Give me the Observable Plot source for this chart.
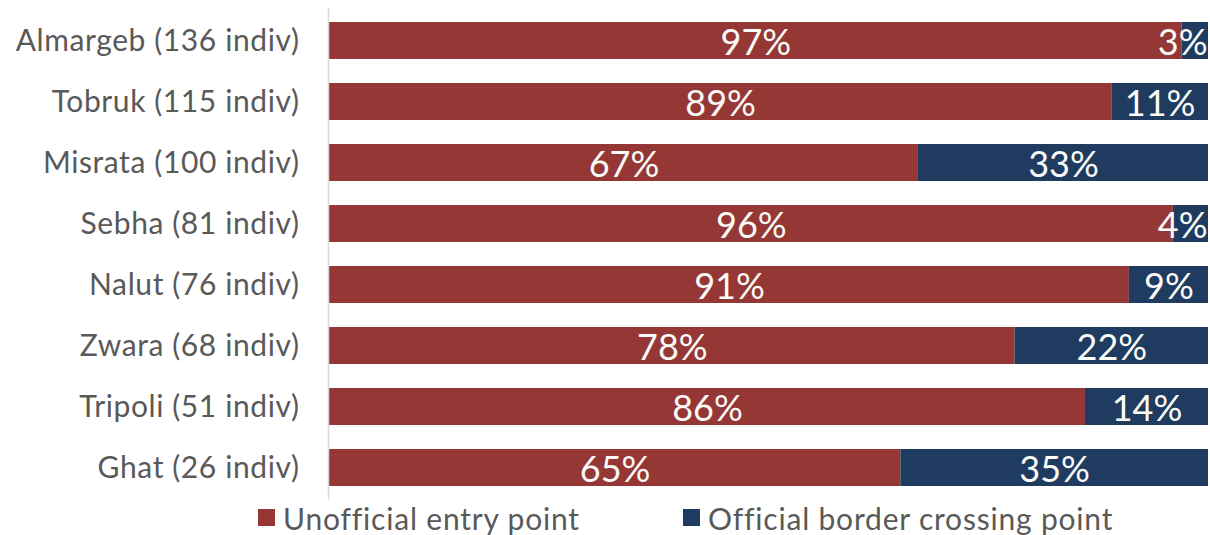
<!DOCTYPE html>
<html>
<head>
<meta charset="utf-8">
<script src="https://cdn.jsdelivr.net/npm/d3@7"></script>
<script src="https://cdn.jsdelivr.net/npm/@observablehq/plot@0.6"></script>
<style>
  html, body { margin: 0; padding: 0; background: #fff; }
  #chart { width: 1210px; }
  #chart svg g[aria-label="y-axis tick label"] text { letter-spacing: 0.6px; }
  .legend { height: 35px; position: relative; font-family: Lato, sans-serif; font-size: 30px; letter-spacing: 0.8px; color: #595959; }
  .legend .item { position: absolute; top: 0; display: flex; align-items: center; height: 35px; }
  .legend .sw { width: 17px; height: 17px; margin-right: 8px; }
</style>
</head>
<body>
<div id="chart"></div>
<script>
const locations = ["Almargeb (136 indiv)", "Tobruk (115 indiv)", "Misrata (100 indiv)", "Sebha (81 indiv)", "Nalut (76 indiv)", "Zwara (68 indiv)", "Tripoli (51 indiv)", "Ghat (26 indiv)"];
const unofficial = [97, 89, 67, 96, 91, 78, 86, 65];
const official = [3, 11, 33, 4, 9, 22, 14, 35];
const seriesNames = ["Unofficial entry point", "Official border crossing point"];
const seriesColors = ["#953735", "#1f3b5f"];

const data = [];
locations.forEach((loc, i) => {
  data.push({loc, series: seriesNames[0], value: unofficial[i]});
  data.push({loc, series: seriesNames[1], value: official[i]});
});
const smallOfficial = locations.map((loc, i) => ({loc, value: official[i]})).filter(d => d.value < 5);

const chart = Plot.plot({
  width: 1210,
  height: 500,
  marginLeft: 329,
  marginRight: 2,
  marginTop: 8,
  marginBottom: 0,
  style: {fontFamily: "Lato, sans-serif", background: "#fff"},
  x: {domain: [0, 100], axis: null},
  y: {domain: locations, paddingInner: 0.4, paddingOuter: 0.213, label: null, axis: null},
  color: {domain: seriesNames, range: seriesColors},
  marks: [
    Plot.barX(data, Plot.stackX({x: "value", y: "loc", fill: "series", order: seriesNames})),
    Plot.text(data.filter(d => d.value >= 5), Plot.stackX({x: "value", y: "loc", z: "series", order: seriesNames, offset: null, text: d => d.value + "%", fill: "#fbfbf8", fontSize: 36, dy: 2})),
    Plot.text(smallOfficial, {x: () => 100, y: "loc", text: d => d.value + "%", textAnchor: "end", dx: -1, dy: 2, fill: "#fbfbf8", fontSize: 36}),
    Plot.ruleX([0], {stroke: "#d9d9d9", strokeWidth: 1.5, dx: -1}),
    Plot.axisY({tickSize: 0, tickPadding: 30, fontSize: 30, fill: "#595959", label: null})
  ]
});
document.getElementById("chart").appendChild(chart);

const legend = document.createElement("div");
legend.className = "legend";
const lefts = [258, 683];
seriesNames.forEach((name, i) => {
  const item = document.createElement("div");
  item.className = "item";
  item.style.left = lefts[i] + "px";
  const sw = document.createElement("div");
  sw.className = "sw";
  sw.style.background = seriesColors[i];
  const label = document.createElement("span");
  label.textContent = name;
  item.appendChild(sw);
  item.appendChild(label);
  legend.appendChild(item);
});
document.getElementById("chart").appendChild(legend);
</script>
</body>
</html>
